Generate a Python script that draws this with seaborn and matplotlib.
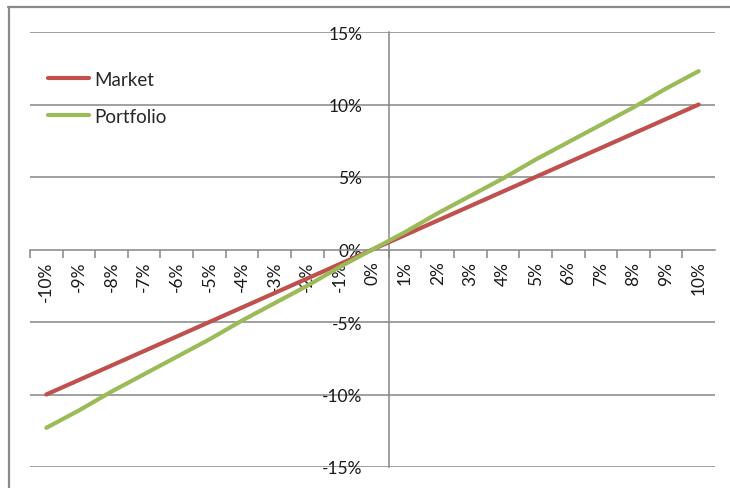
import matplotlib
matplotlib.use("Agg")
import matplotlib.pyplot as plt
from matplotlib.lines import Line2D
from matplotlib.ticker import FixedLocator, FuncFormatter
import seaborn as sns
import pandas as pd

# Returns in percent
categories = ["-10%", "-9%", "-8%", "-7%", "-6%", "-5%", "-4%", "-3%", "-2%", "-1%",
              "0%", "1%", "2%", "3%", "4%", "5%", "6%", "7%", "8%", "9%", "10%"]
market = [-10, -9, -8, -7, -6, -5, -4, -3, -2, -1, 0, 1, 2, 3, 4, 5, 6, 7, 8, 9, 10]
portfolio = [-12.3, -11.1, -9.8, -8.6, -7.4, -6.2, -4.9, -3.7, -2.5, -1.2, 0,
             1.2, 2.5, 3.7, 4.9, 6.2, 7.4, 8.6, 9.8, 11.1, 12.3]
y_ticks = [-15, -10, -5, 0, 5, 10, 15]

sns.set_theme(style="white")
plt.rcParams["font.family"] = ["Lato", "DejaVu Sans"]

W, H = 730, 489
fig = plt.figure(figsize=(W / 100, H / 100), dpi=100)
ax = fig.add_axes([30 / W, 1 - 468 / H, (715 - 30) / W, (468 - 33) / H])

pos = list(range(len(categories)))
df = pd.DataFrame({
    "pos": pos * 2,
    "value": market + portfolio,
    "series": ["Market"] * len(pos) + ["Portfolio"] * len(pos),
})

grid_c = "#868686"
for v in y_ticks:
    if v != 0:
        ax.axhline(v, color=grid_c, lw=1.1, zorder=0.5)

sns.lineplot(data=df, x="pos", y="value", hue="series",
             palette={"Market": "#C0504D", "Portfolio": "#9BBB59"},
             linewidth=3.0, ax=ax, zorder=3, solid_capstyle="round")

ax.set_xlim(-0.5, len(categories) - 0.5)
ax.set_ylim(-15, 15)
ax.set_xlabel("")
ax.set_ylabel("")

# Axes cross at the centre of the chart
for s in ["top", "right"]:
    ax.spines[s].set_visible(False)
ax.spines["left"].set_position(("data", 10.5))
ax.spines["bottom"].set_position(("data", 0))
for s in ["left", "bottom"]:
    ax.spines[s].set_color(grid_c)
    ax.spines[s].set_linewidth(1.1)
    ax.spines[s].set_zorder(1)

ax.yaxis.set_major_locator(FixedLocator(y_ticks))
ax.yaxis.set_major_formatter(FuncFormatter(lambda v, p: f"{int(v)}%"))
ax.tick_params(axis="y", which="major", length=0, pad=19, labelsize=12.5,
               labelcolor="#1a1a1a")

ax.set_xticks(pos)
ax.set_xticklabels(categories, rotation=90, va="top", ha="center")
ax.set_xticks([p + 0.5 for p in pos[:-1]] + [-0.5], minor=True)
ax.tick_params(axis="x", which="major", length=0, pad=8, labelsize=12.5,
               labelcolor="#1a1a1a")
ax.tick_params(axis="x", which="minor", length=6, width=1.1, color=grid_c,
               direction="out", bottom=True)

leg = ax.legend(loc="upper left", bbox_to_anchor=(18 / 685, 1 - 39 / 435),
                frameon=False, fontsize=13.5, handlelength=2.2,
                handletextpad=0.25, labelspacing=1.05, borderpad=0,
                borderaxespad=0)
for line in leg.get_lines():
    line.set_linewidth(3.0)
    line.set_solid_capstyle("round")

# Chart area border
fig.add_artist(Line2D([8 / W, 1], [1 - 7.5 / H, 1 - 7.5 / H],
                      transform=fig.transFigure, color="#8a8a8a", lw=1.6))
fig.add_artist(Line2D([8.5 / W, 8.5 / W], [0, 1 - 7.5 / H],
                      transform=fig.transFigure, color="#8a8a8a", lw=1.6))

fig.savefig("out.png", dpi=100, facecolor="white")
